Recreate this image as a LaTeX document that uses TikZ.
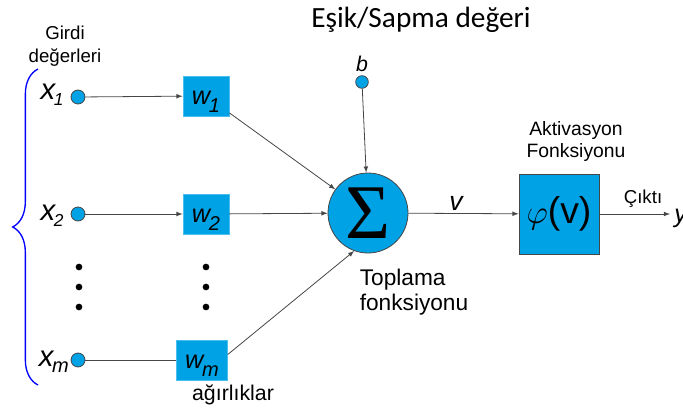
\documentclass[tikz,border=0pt]{standalone}
\usepackage{fontspec}
\setmainfont{Liberation Sans}
\newfontfamily\titlefont{Carlito}
\newfontfamily\greekfont{Liberation Serif}
\usetikzlibrary{positioning,decorations.pathreplacing}
\definecolor{cellblue}{RGB}{0,162,230}
\definecolor{wire}{RGB}{70,70,70}
\newcommand{\fsz}[1]{\fontsize{#1}{#1}\selectfont}
% italic symbol with a low index
\newcommand{\sub}[4]{#1\kern-1pt\raisebox{-#4}{\fsz{#3}#2}}

\begin{document}
\begin{tikzpicture}[x=0.75pt,y=-0.75pt,>=latex,
    inp/.style={circle,draw=wire,fill=cellblue,inner sep=0pt,minimum size=10.5pt},
    wbox/.style={fill=cellblue,draw=cellblue!70,inner sep=0pt,minimum width=34.5pt,minimum height=30pt,
      font=\fsz{19}\itshape,text height=13pt,text depth=0pt},
    sumnode/.style={circle,draw=wire,fill=cellblue,inner sep=0pt,minimum size=60pt},
    actbox/.style={draw=wire,fill=cellblue,inner sep=0pt,minimum size=60pt},
    inlab/.style={anchor=base east,inner sep=0pt,font=\fsz{22}\itshape},
    lbl/.style={inner sep=1pt},
    every path/.style={line width=0.6pt}]
  \useasboundingbox (0,0) rectangle (683,414);
  % inputs
  \node[inp] (x1) at (78,97) {};
  \node[inp] (x2) at (78,214) {};
  \node[inp] (xm) at (78,360) {};
  \node[inlab] (x1lab) at ([xshift=-5pt,yshift=-1.5pt]x1.west) {\sub{x}{1}{13}{4.5pt}};
  \node[inlab] (x2lab) at ([xshift=-5pt,yshift=-4.5pt]x2.west) {\sub{x}{2}{13}{4.5pt}};
  \node[inlab] (xmlab) at ([xshift=-1pt,yshift=-4.5pt]xm.west) {\sub{x}{m}{15}{4.5pt}};
  \node[align=center, font=\fsz{14}] (girdi) at (65,46) {Girdi\\[3pt]değerleri};
  % weights
  \node[wbox] (w1) at (206,96) {\sub{w}{1}{15}{6pt}};
  \node[wbox] (w2) at (206,214) {\sub{w}{2}{15}{6pt}};
  \node[wbox, minimum width=38pt] (wm) at (202,360) {\sub{w}{m}{15}{6pt}};
  \node[font=\fsz{16}] (agir) at (233,395) {ağırlıklar};
  \foreach \y in {267,287,307} {
    \fill (79,\y) circle (2.5pt);
    \fill (206,\y) circle (2.5pt);
  }
  % summing junction and bias
  \node[sumnode] (sum) at (368,213) {\greekfont\fsz{58}Σ};
  \node[inp, minimum size=9.5pt] (b) at (362,82) {};
  \node[lbl, above=1pt of b, font=\fsz{16}\itshape] (blab) {b};
  \node[font=\titlefont\fsz{22}] (title) at (421,20) {Eşik/Sapma değeri};
  \node[anchor=north west, align=left, font=\fsz{17}] (topl) at (355,264) {Toplama\\[2pt]fonksiyonu};
  % activation and output
  \node[actbox] (act) at (559,214) {\fsz{28}$\varphi$(v)};
  \node[align=center, font=\fsz{14.5}] (akt) at (576,141) {Aktivasyon\\[2pt]Fonksiyonu};
  \node[lbl, font=\fsz{20}\itshape] (vlab) at (456,203) {v};
  \node[lbl, font=\fsz{14}] (cikti) at (643,199) {Çıktı};
  \coordinate (out) at (670,214);
  \node[anchor=base west, inner sep=0pt, font=\fsz{19}\itshape] (ylab) at (674,222) {y};
  % connections
  \draw[wire,->] (x1) -- (w1);
  \draw[wire,->] (x2) -- (w2);
  \draw[wire] (xm) -- (wm);
  \draw[wire,->] (w1) -- (sum);
  \draw[wire,->] (w2) -- (sum);
  \draw[wire,->] (wm.12) -- (sum.250);
  \draw[wire,->] (b) -- (sum);
  \draw[wire,->] (sum) -- (act);
  \draw[wire,->] (act) -- (out);
  % input brace
  \coordinate (btop) at (38,69);
  \coordinate (bbot) at (38,385);
  \draw[blue, line width=1pt, decorate, decoration={brace, amplitude=19pt}] (bbot) -- (btop);
\end{tikzpicture}
\end{document}
